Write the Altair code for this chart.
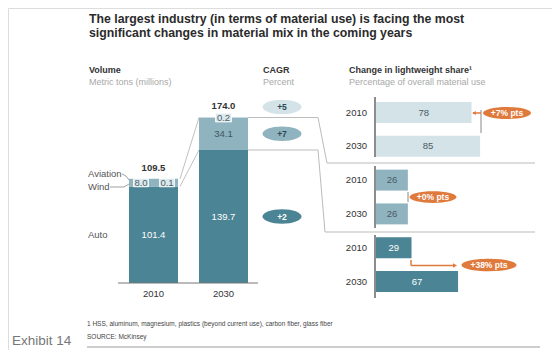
import altair as alt
import pandas as pd

# ---------------- data ----------------
years = ["2010", "2030"]
segments = ["Auto", "Wind", "Aviation"]
volume_2010 = [101.4, 8.0, 0.1]
volume_2030 = [139.7, 34.1, 0.2]
totals = [109.5, 174.0]
cagr_labels = ["+2", "+7", "+5"]
share_2010 = [29, 26, 78]
share_2030 = [67, 26, 85]
change_labels = ["+38% pts", "+0% pts", "+7% pts"]

seg_colors = ["#4b8494", "#8fb3bf", "#d3e3e8"]
FONT = "Liberation Sans"
ORANGE = "#e07a3c"
DARK = "#333333"
GRAY = "#a8a8a8"


def P(v):
    return v - 8


one = pd.DataFrame({"a": [0]})


def txt(s, x, y, size, color=DARK, weight="normal", align="left", baseline="middle"):
    return alt.Chart(one).mark_text(text=s, font=FONT, fontSize=size, color=color,
                                    fontWeight=weight, align=align, baseline=baseline).encode(
        x=alt.value(P(x)), y=alt.value(P(y)))


def rule(x1, y1, x2, y2, color="#bbbbbb", w=1.0):
    return alt.Chart(one).mark_rule(color=color, strokeWidth=w).encode(
        x=alt.value(P(x1)), y=alt.value(P(y1)), x2=alt.value(P(x2)), y2=alt.value(P(y2)))


def ellipse(ry):
    return f"M -1 0 A 1 {ry} 0 1 1 1 0 A 1 {ry} 0 1 1 -1 0 Z"


def blob(x, y, w, ry, color, label, tcolor="white", size=8.5):
    p = alt.Chart(one).mark_point(shape=ellipse(ry), size=w * w, filled=True, color=color,
                                  opacity=1, strokeWidth=0).encode(
        x=alt.value(P(x)), y=alt.value(P(y)))
    t = txt(label, x, y, size, tcolor, "bold", "center")
    return p + t


# ---------------- scales ----------------
color = alt.Color("segment:N", scale=alt.Scale(domain=segments, range=seg_colors), legend=None)
xs_vol = alt.Scale(domain=years, range=[P(118.5), P(258.5)], paddingInner=0.3, paddingOuter=0.15)
ys_vol = alt.Scale(domain=[0, 100], range=[P(283), P(283 - 95.2)], nice=False, zero=True)

vol = pd.DataFrame([
    {"year": y, "segment": s, "value": v, "order": i}
    for y, vals in zip(years, [volume_2010, volume_2030])
    for i, (s, v) in enumerate(zip(segments, vals))
])

bars = alt.Chart(vol).mark_bar().encode(
    x=alt.X("year:N", scale=xs_vol, axis=None),
    y=alt.Y("value:Q", stack="zero", scale=ys_vol, axis=None),
    color=color,
    order=alt.Order("order:Q"),
)

# inner labels (auto and 2030 wind)
inner = pd.DataFrame({
    "year": ["2010", "2030", "2030"],
    "mid": [volume_2010[0] / 2, volume_2030[0] / 2, volume_2030[0] + volume_2030[1] / 2],
    "label": [f"{volume_2010[0]:.1f}", f"{volume_2030[0]:.1f}", f"{volume_2030[1]:.1f}"],
    "white": [True, True, False],
})
inner_txt = alt.Chart(inner).mark_text(font=FONT, fontSize=9.5, baseline="middle").encode(
    x=alt.X("year:N", scale=xs_vol, axis=None),
    y=alt.Y("mid:Q", scale=ys_vol, axis=None),
    text="label:N",
    color=alt.condition("datum.white", alt.value("white"), alt.value("#3d5763")),
)

# small labels with light boxes
small_box = []
small_specs = [
    ("2010", volume_2010[0] + volume_2010[1] / 2, f"{volume_2010[1]:.1f}", -12.5, 141, 15),
    ("2010", volume_2010[0] + volume_2010[1] / 2, f"{volume_2010[2]:.1f}", 13.5, 167, 15),
    ("2030", volume_2030[0] + volume_2030[1], f"{volume_2030[2]:.1f}", 0, 223.5, 16),
]
for yr, yv, lab, dx, bx, bw in small_specs:
    d = pd.DataFrame({"year": [yr], "y": [yv], "label": [lab]})
    box = alt.Chart(d).mark_point(shape="M -1 -0.55 H 1 V 0.55 H -1 Z", size=bw * bw, filled=True,
                                  color="#dde9ed", opacity=1, stroke="white", strokeWidth=0.8).encode(
        x=alt.value(P(bx)), y=alt.Y("y:Q", scale=ys_vol, axis=None))
    t = alt.Chart(d).mark_text(font=FONT, fontSize=9.5, color="#4a5f68", dx=dx, baseline="middle").encode(
        x=alt.X("year:N", scale=xs_vol, axis=None),
        y=alt.Y("y:Q", scale=ys_vol, axis=None), text="label:N")
    small_box += [box, t]

tot = pd.DataFrame({"year": years, "total": totals, "label": [f"{t:.1f}" for t in totals]})
tot_txt = alt.Chart(tot).mark_text(font=FONT, fontSize=9.5, fontWeight="bold", color=DARK, dy=-11,
                                   baseline="middle").encode(
    x=alt.X("year:N", scale=xs_vol, axis=None),
    y=alt.Y("total:Q", scale=ys_vol, axis=None), text="label:N")

xlab = alt.Chart(pd.DataFrame({"year": years})).mark_text(font=FONT, fontSize=9.5, color=DARK,
                                                          baseline="middle").encode(
    x=alt.X("year:N", scale=xs_vol, axis=None), y=alt.value(P(294)), text="year:N")

# connectors between the two bars
bnd = pd.DataFrame({
    "b10": [volume_2010[0], volume_2010[0] + volume_2010[1]],
    "b30": [volume_2030[0], volume_2030[0] + volume_2030[1]],
})
conn = alt.Chart(bnd).mark_rule(color="#b0b0b0", strokeWidth=0.8).encode(
    x=alt.value(P(180)), x2=alt.value(P(199)),
    y=alt.Y("b10:Q", scale=ys_vol, axis=None), y2="b30:Q")
conn_r = alt.Chart(bnd).mark_rule(color="#bbbbbb", strokeWidth=1).encode(
    x=alt.value(P(248)), x2=alt.value(P(318)),
    y=alt.Y("b30:Q", scale=ys_vol, axis=None))

# CAGR bubbles
cg = pd.DataFrame({
    "segment": segments,
    "y": [volume_2030[0] / 2, volume_2030[0] + volume_2030[1] / 2, totals[1] + 11],
    "label": cagr_labels,
    "white": [True, False, False],
})
cg_pt = alt.Chart(cg).mark_point(shape=ellipse(0.37), size=39 * 39, filled=True, opacity=1,
                                 strokeWidth=0).encode(
    x=alt.value(P(282)), y=alt.Y("y:Q", scale=ys_vol, axis=None), color=color)
cg_txt = alt.Chart(cg).mark_text(font=FONT, fontSize=8.5, fontWeight="bold", baseline="middle").encode(
    x=alt.value(P(282)), y=alt.Y("y:Q", scale=ys_vol, axis=None), text="label:N",
    color=alt.condition("datum.white", alt.value("white"), alt.value("#2f4750")))

# ---------------- right panels ----------------
order_r = ["Aviation", "Wind", "Auto"]
rows = []
for s in order_r:
    i = segments.index(s)
    for y, v in zip(years, [share_2010[i], share_2030[i]]):
        rows.append({"key": f"{s} {y}", "segment": s, "year": y, "value": v, "mid": v / 2,
                     "white": s == "Auto"})
sh = pd.DataFrame(rows)
keys = list(sh["key"])
ys_r = alt.Scale(domain=keys, range=[P(95.6), P(298.4)], paddingInner=0.38, paddingOuter=0.19)
xs_r = alt.Scale(domain=[0, 100], range=[P(376), P(498.5)], nice=False, zero=True)

r_bars = alt.Chart(sh).mark_bar().encode(
    x=alt.X("value:Q", scale=xs_r, axis=None),
    y=alt.Y("key:N", scale=ys_r, axis=None),
    color=color)
r_txt = alt.Chart(sh).mark_text(font=FONT, fontSize=9.5, baseline="middle").encode(
    x=alt.X("mid:Q", scale=xs_r, axis=None),
    y=alt.Y("key:N", scale=ys_r, axis=None),
    text="value:Q",
    color=alt.condition("datum.white", alt.value("white"), alt.value("#4a5a63")))
r_year = alt.Chart(sh).mark_text(font=FONT, fontSize=9.5, color=DARK, align="right",
                                 baseline="middle").encode(
    x=alt.value(P(367)), y=alt.Y("key:N", scale=ys_r, axis=None), text="year:N")

layers = [
    rule(86, 7, 540, 7, "#9a9a9a", 1),
    txt("The largest industry (in terms of material use) is facing the most", 89, 18.5, 12.3, "#2b2b2b", "bold"),
    txt("significant changes in material mix in the coming years", 89, 32.5, 12.3, "#2b2b2b", "bold"),
    txt("Volume", 89, 70, 9, DARK, "bold"),
    txt("Metric tons (millions)", 89, 81.5, 9, GRAY),
    txt("CAGR", 263, 70, 9, DARK, "bold"),
    txt("Percent", 263, 81.5, 9, GRAY),
    txt("Change in lightweight share\u00b9", 349, 70, 9, DARK, "bold"),
    txt("Percentage of overall material use", 349, 81.5, 9, GRAY),
    # frame lines
    rule(318, 117.5, 327, 163), rule(327, 163, 535, 163),
    rule(318, 150, 325, 232), rule(325, 232, 535, 232),
    conn, conn_r,
    bars, inner_txt, *small_box, tot_txt,
    rule(118, 283, 258, 283, "#777777", 1),
    xlab,
    # left category labels
    txt("Aviation", 88, 174, 9.5, "#555555"),
    txt("Wind", 88, 187, 9.5, "#555555"),
    txt("Auto", 88, 235, 9.5, "#555555"),
    rule(122, 174, 126, 176, "#888888", 0.8), rule(126, 176, 129, 180, "#888888", 0.8),
    rule(110, 187, 124, 187, "#888888", 0.8), rule(124, 187, 129, 184, "#888888", 0.8),
    cg_pt, cg_txt,
    # right panels
    r_bars, r_txt, r_year,
    rule(375, 97, 375, 157, "#666666", 1.5),
    rule(375, 166, 375, 228, "#666666", 1.5),
    rule(375, 235, 375, 298, "#666666", 1.5),
    # change annotations
    rule(481, 110, 481, 133, "#888888", 1),
    rule(473, 113, 481, 113, ORANGE, 1.5),
    alt.Chart(one).mark_point(shape="triangle-left", size=18, filled=True, color=ORANGE, opacity=1).encode(
        x=alt.value(P(474)), y=alt.value(P(113))),
    blob(507, 113, 48, 0.25, ORANGE, change_labels[2]),
    rule(408, 192, 408, 202, "#888888", 1),
    blob(433, 197, 47, 0.25, ORANGE, change_labels[1]),
    rule(411, 260, 411, 265.5, ORANGE, 1.5),
    rule(411, 265.5, 455, 265.5, ORANGE, 1.5),
    alt.Chart(one).mark_point(shape="triangle-right", size=22, filled=True, color=ORANGE, opacity=1).encode(
        x=alt.value(P(455)), y=alt.value(P(265.5))),
    blob(489, 265, 55, 0.23, ORANGE, change_labels[0]),
    # footer
    txt("1 HSS, aluminum, magnesium, plastics (beyond current use), carbon fiber, glass fiber", 87, 324, 6.5, "#444444"),
    txt("SOURCE: McKinsey", 87, 336.5, 6.5, "#444444"),
    rule(87, 347, 540, 347, "#9a9a9a", 1),
    txt("Exhibit 14", 12, 341, 13.5, "#777777"),
]

chart = alt.layer(*layers).resolve_scale(x="independent", y="independent").properties(
    width=544, height=342, autosize=alt.AutoSizeParams(type="none"), padding=0,
).configure_view(stroke=None).configure(background="white")

chart.save("out.html", embed_options={"renderer": "svg", "actions": False})
